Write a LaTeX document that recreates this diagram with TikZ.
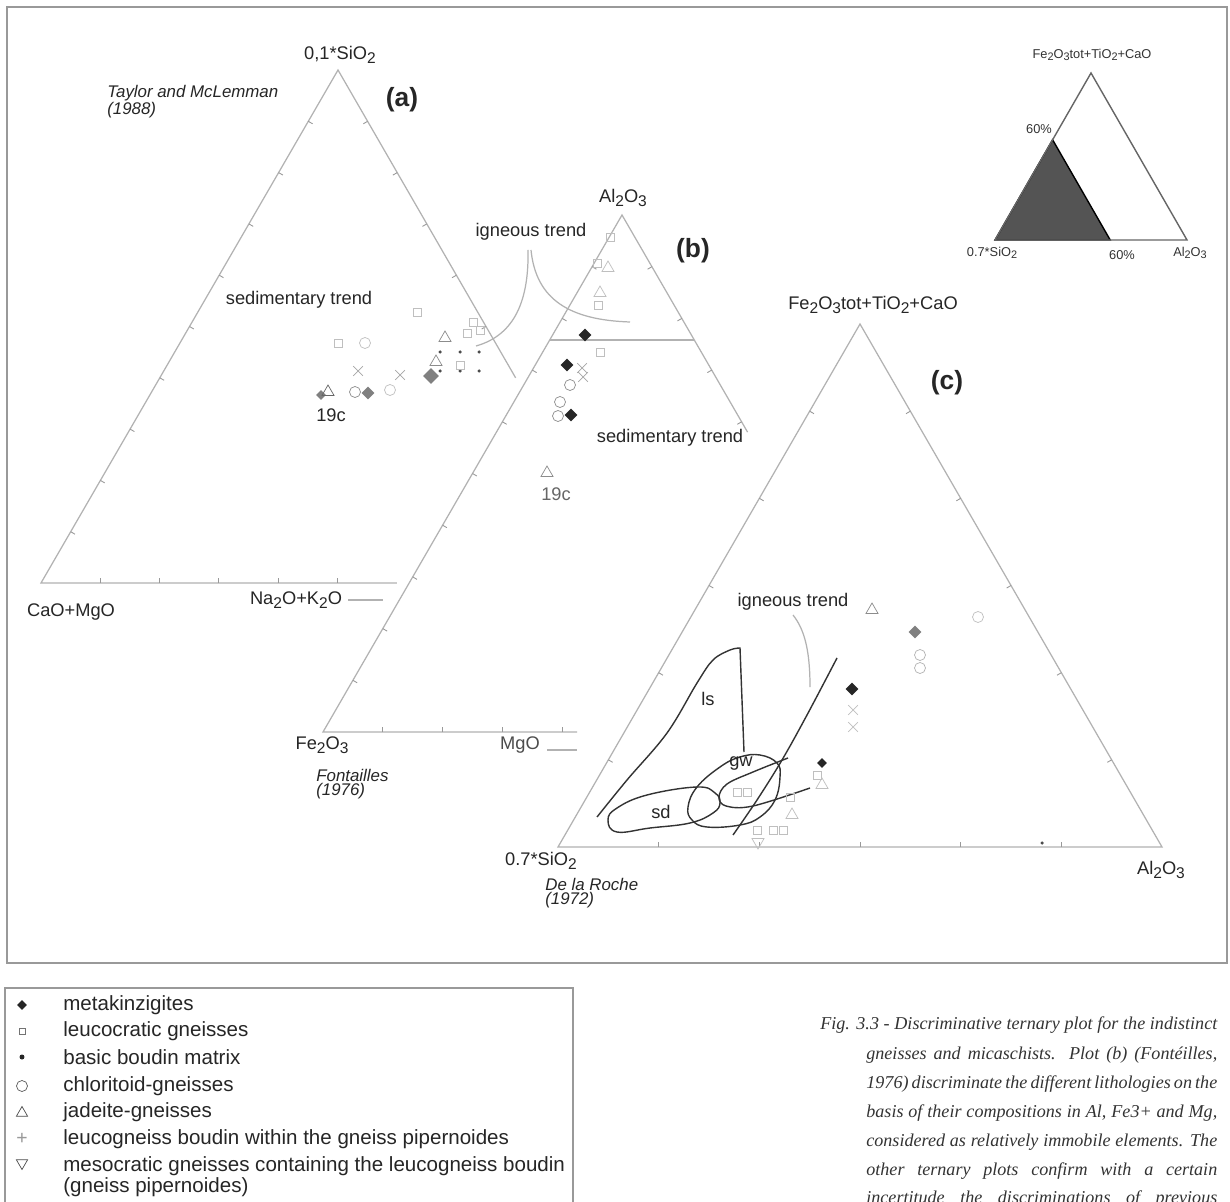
\documentclass[tikz,border=0pt]{standalone}
\usepackage{fontspec}
\usepackage{graphicx}
\setmainfont{Liberation Sans}
\newfontfamily\capfont{Liberation Serif}
\usetikzlibrary{calc,shapes.geometric,shapes.misc}
\newcommand\sbs[1]{\raisebox{-0.4ex}{\scalebox{0.85}{#1}}}
\newcommand\tickset[4]{\foreach \fr in {#3}{\draw[tk] ($(#1)!\fr!(#2)$) -- ++(#4);}}
\tikzset{
 frm/.style={draw=black!40, line width=0.9pt},
 ax/.style={draw=black!30, line width=0.7pt},
 tk/.style={draw=black!40, line width=0.5pt},
 trend/.style={draw=black!30, line width=0.7pt},
 reg/.style={draw=black!80, line width=0.8pt},
 lab/.style={font=\fontsize{10.4}{12}\selectfont, text=black!85, inner sep=0pt},
 reftxt/.style={font=\fontsize{9.6}{11}\selectfont\itshape, text=black!85, inner sep=0pt, anchor=west},
 big/.style={font=\fontsize{15}{17}\selectfont\bfseries, text=black!85, inner sep=0pt},
 smalltxt/.style={font=\fontsize{7.3}{8.5}\selectfont, text=black!80, inner sep=0pt},
 leg/.style={font=\fontsize{11.7}{13}\selectfont, text=black!85, inner sep=0pt, anchor=west},
 captxt/.style={font=\capfont\itshape\fontsize{10.3}{12}\selectfont, text=black!80, inner sep=0pt, anchor=west},
 bdia/.style={diamond, fill=black!85, inner sep=0pt, minimum size=0.26cm},
 gdia/.style={diamond, fill=black!50, inner sep=0pt, minimum size=0.26cm},
 ocirc/.style={circle, draw=black!45, line width=0.4pt, inner sep=0pt, minimum size=0.22cm},
 lcirc/.style={circle, draw=black!25, line width=0.4pt, inner sep=0pt, minimum size=0.22cm},
 osq/.style={rectangle, draw=black!25, line width=0.4pt, inner sep=0pt, minimum size=0.16cm},
 otri/.style={regular polygon, regular polygon sides=3, draw=black!45, line width=0.4pt, inner sep=0pt, minimum size=0.28cm},
 ltri/.style={otri, draw=black!25},
 dtri/.style={otri, shape border rotate=180},
 dotm/.style={circle, fill=black!70, inner sep=0pt, minimum size=0.07cm},
 xm/.style={cross out, draw=black!35, line width=0.4pt, inner sep=0pt, minimum size=0.18cm},
}
\begin{document}
\begin{tikzpicture}[x=0.02cm,y=-0.02cm]
\useasboundingbox (0,0) rectangle (1230,1202);
\fill[white] (0,0) rectangle (1230,1202);

% frames
\draw[frm] (7,7) rectangle (1227,963);
\draw[frm] (5,1210) -- (5,988) -- (573,988) -- (573,1210);

% ---------- triangle (a)
\coordinate (aL) at (41,583); \coordinate (aT) at (338,70); \coordinate (aR) at (634,583);
\draw[ax] ($(aL)!0.6!(aR)$) -- (aL) -- (aT) -- ($(aT)!0.6!(aR)$);
\tickset{aL}{aT}{0.1,0.2,0.3,0.4,0.5,0.6,0.7,0.8,0.9}{4.3,2.5}
\tickset{aT}{aR}{0.1,0.2,0.3,0.4,0.5}{-4.3,2.5}
\tickset{aL}{aR}{0.1,0.2,0.3,0.4,0.5}{0,-5}
\draw[ax] (348,600) -- (383,600);

% ---------- triangle (b)
\coordinate (bL) at (323,732); \coordinate (bT) at (622,215); \coordinate (bR) at (921,732);
\draw[ax] ($(bL)!0.425!(bR)$) -- (bL) -- (bT) -- ($(bT)!0.42!(bR)$);
\draw[ax] ($(bL)!0.758!(bT)$) -- ($(bT)!0.242!(bR)$);
\tickset{bL}{bT}{0.1,0.2,0.3,0.4,0.5,0.6,0.7,0.8,0.9}{4.3,2.5}
\tickset{bT}{bR}{0.1,0.2,0.3,0.4}{-4.3,2.5}
\tickset{bL}{bR}{0.1,0.2,0.3,0.4}{0,-5}
\draw[ax] (547,750) -- (577,750);
\draw[trend] (528,250) .. controls (529,300) and (515,335) .. (476,346);
\draw[trend] (531,250) .. controls (536,300) and (570,320) .. (630,322);

% ---------- triangle (c)
\coordinate (cL) at (558,847); \coordinate (cT) at (860,324); \coordinate (cR) at (1162,847);
\draw[ax] (cL) -- (cT) -- (cR) -- cycle;
\tickset{cL}{cT}{0.1667,0.3333,0.5,0.6667,0.8333}{4.3,2.5}
\tickset{cT}{cR}{0.1667,0.3333,0.5,0.6667,0.8333}{-4.3,2.5}
\tickset{cL}{cR}{0.1667,0.3333,0.5,0.6667,0.8333}{0,-5}
\draw[trend] (793,615) .. controls (805,630) and (810,652) .. (810,687);
% regions
\draw[reg] plot[smooth, tension=0.6] coordinates {(597,817) (627,780) (667,733) (697,683) (713,660) (730,650) (740,648)} -- (744,752);
\draw[reg] plot[smooth cycle, tension=0.7] coordinates {(608,820) (617,808) (647,795) (697,787) (715,793) (720,803) (713,813) (690,823) (650,828) (617,832)};
\draw[reg] plot[smooth cycle, tension=0.7] coordinates {(688,807) (697,787) (720,767) (740,757) (760,755) (777,763) (780,777) (775,800) (760,817) (740,825) (707,827) (692,820)};
\draw[reg] plot[smooth, tension=0.6] coordinates {(788,758) (753,772) (727,784) (719,797) (726,806) (753,806) (810,788)};
\draw[reg] plot[smooth, tension=0.6] coordinates {(733,835) (757,800) (782,760) (807,715) (837,658)};

% ---------- data (a)
\node[gdia, minimum size=0.2cm] (a19d) at (321,395) {};
\node[otri, draw=black!60] (a19t) at (328,392) {};
\node[gdia] (ag1) at (368,393) {};
\node[gdia, minimum size=0.32cm] (agbig) at (431,376) {};
\node[ocirc] (ac1) at (355,392) {};
\foreach \x/\y [count=\i] in {390/390,365/343} \node[lcirc] (alc\i) at (\x,\y) {};
\foreach \x/\y [count=\i] in {358/371,400/375} \node[xm] (ax\i) at (\x,\y) {};
\foreach \x/\y [count=\i] in {436/362,445/338} \node[otri] (at\i) at (\x,\y) {};
\foreach \x/\y [count=\i] in {440/352,440/371,460/352,479/352,460/371,479/371} \node[dotm] (ad\i) at (\x,\y) {};
\foreach \x/\y [count=\i] in {460/365,417/312,338/343,473/322,467/333,480/330} \node[osq] (as\i) at (\x,\y) {};

% ---------- data (b)
\foreach \x/\y [count=\i] in {585/335,567/365,571/415} \node[bdia] (bd\i) at (\x,\y) {};
\foreach \x/\y [count=\i] in {600/352,610/237,597/263,598/305} \node[osq] (bs\i) at (\x,\y) {};
\foreach \x/\y [count=\i] in {608/268,600/293} \node[ltri] (bt\i) at (\x,\y) {};
\foreach \x/\y [count=\i] in {582/368,583/377} \node[xm] (bx\i) at (\x,\y) {};
\foreach \x/\y [count=\i] in {570/385,560/402,558/416} \node[ocirc] (bc\i) at (\x,\y) {};
\node[otri] (b19t) at (547,473) {};

% ---------- data (c)
\node[otri] (ct1) at (872,610) {};
\node[gdia] (cg1) at (915,632) {};
\foreach \x/\y [count=\i] in {920/655,920/668} \node[ocirc, draw=black!30] (cc\i) at (\x,\y) {};
\node[lcirc] (cc3) at (978,617) {};
\node[bdia] (cb1) at (852,689) {};
\node[bdia, minimum size=0.2cm] (cb2) at (822,763) {};
\foreach \x/\y [count=\i] in {853/710,853/727} \node[xm, draw=black!25] (cx\i) at (\x,\y) {};
\foreach \x/\y [count=\i] in {817/775,737/792,747/792,790/797,783/830,757/830,773/830} \node[osq] (cs\i) at (\x,\y) {};
\foreach \x/\y [count=\i] in {822/785,792/815} \node[ltri] (ctt\i) at (\x,\y) {};
\node[dtri, draw=black!25] (cdt) at (758,842) {};
\node[dotm] (cdot) at (1042,843) {};

% ---------- labels
\node[lab] (lSi) at (340,55) {0,1*SiO\sbs{2}};
\node[reftxt] (lTay) at (107,93) {Taylor and McLemman};
\node[reftxt] (lTay2) at (107,110) {(1988)};
\node[big] (la) at (402,100) {(a)};
\node[lab] (lCa) at (71,612) {CaO+MgO};
\node[lab] (lNa) at (296,600) {Na\sbs{2}O+K\sbs{2}O};
\node[lab] (lsedA) at (299,300) {sedimentary trend};
\node[lab] (l19a) at (331,415) {19c};
\node[lab] (lig1) at (531,232) {igneous trend};
\node[lab] (lAl) at (623,198) {Al\sbs{2}O\sbs{3}};
\node[big] (lb) at (693,251) {(b)};
\node[lab] (lsedB) at (670,438) {sedimentary trend};
\node[lab, text=black!60] (l19b) at (556,494) {19c};
\node[lab] (lFe) at (322,745) {Fe\sbs{2}O\sbs{3}};
\node[lab, text=black!70] (lMg) at (520,745) {MgO};
\node[reftxt] (lFon) at (316,775) {Fontailles};
\node[reftxt] (lFon2) at (316,791) {(1976)};
\node[lab] (lFeT) at (873,305) {Fe\sbs{2}O\sbs{3}tot+TiO\sbs{2}+CaO};
\node[big] (lc) at (947,383) {(c)};
\node[lab] (lig2) at (793,602) {igneous trend};
\node[lab] (lls) at (708,699) {ls};
\node[lab] (lgw) at (741,763) {gw};
\node[lab] (lsd) at (661,812) {sd};
\node[lab] (l07) at (541,861) {0.7*SiO\sbs{2}};
\node[reftxt] (lRoc) at (545,884) {De la Roche};
\node[reftxt] (lRoc2) at (545,900) {(1972)};
\node[lab] (lAl2) at (1161,870) {Al\sbs{2}O\sbs{3}};

% ---------- inset
\coordinate (iL) at (995,240); \coordinate (iT) at (1091,73); \coordinate (iR) at (1187,240);
\filldraw[fill=black!67, draw=black, line width=0.8pt] (iL) -- ($(iL)!0.6!(iT)$) -- ($(iL)!0.6!(iR)$) -- cycle;
\draw[black!60, line width=0.8pt] (iL) -- (iT) -- (iR) -- cycle;
\node[smalltxt] (iFe) at (1092,55) {Fe\sbs{2}O\sbs{3}tot+TiO\sbs{2}+CaO};
\node[smalltxt] (i60a) at (1039,129) {60\%};
\node[smalltxt] (i60b) at (1122,255) {60\%};
\node[smalltxt] (iSi) at (992,253) {0.7*SiO\sbs{2}};
\node[smalltxt] (iAl) at (1190,253) {Al\sbs{2}O\sbs{3}};

% ---------- legend
\node[bdia, minimum size=0.2cm] (k1) at (22,1005) {};
\node[rectangle, draw=black!55, line width=0.4pt, inner sep=0pt, minimum size=0.12cm] (k2) at (22,1031) {};
\node[circle, fill=black!85, inner sep=0pt, minimum size=0.1cm] (k3) at (22,1057) {};
\node[circle, draw=black!65, line width=0.4pt, inner sep=0pt, minimum size=0.22cm] (k4) at (22,1086) {};
\node[otri, draw=black!70, minimum size=0.26cm] (k5) at (22,1113) {};
\node[font=\fontsize{11}{12}\selectfont, text=black!40, inner sep=0pt] (k6) at (22,1139) {+};
\node[dtri, draw=black!70, minimum size=0.26cm] (k7) at (22,1163) {};
\node[leg] (t1) at (63,1005) {metakinzigites};
\node[leg] (t2) at (63,1031) {leucocratic gneisses};
\node[leg] (t3) at (63,1057) {basic boudin matrix};
\node[leg] (t4) at (63,1086) {chloritoid-gneisses};
\node[leg] (t5) at (63,1112) {jadeite-gneisses};
\node[leg] (t6) at (63,1139) {leucogneiss boudin within the gneiss pipernoides};
\node[leg] (t7) at (63,1166) {mesocratic gneisses containing the leucogneiss boudin};
\node[leg] (t8) at (63,1187) {(gneiss pipernoides)};

% ---------- caption
\node[captxt] (c1) at (820,1025) {\makebox[7.94cm][s]{Fig. 3.3 - Discriminative ternary plot for the indistinct}};
\node[captxt] (c2) at (866,1055) {\makebox[7.02cm][s]{gneisses and micaschists. Plot (b) (Fontéilles,}};
\node[captxt] (c3) at (866,1084) {\makebox[7.02cm][s]{1976) discriminate the different lithologies on the}};
\node[captxt] (c4) at (866,1113) {\makebox[7.02cm][s]{basis of their compositions in Al, Fe3+ and Mg,}};
\node[captxt] (c5) at (866,1142) {\makebox[7.02cm][s]{considered as relatively immobile elements. The}};
\node[captxt] (c6) at (866,1171) {\makebox[7.02cm][s]{other ternary plots confirm with a certain}};
\node[captxt] (c7) at (866,1199) {\makebox[7.02cm][s]{incertitude the discriminations of previous}};
\end{tikzpicture}
\end{document}
